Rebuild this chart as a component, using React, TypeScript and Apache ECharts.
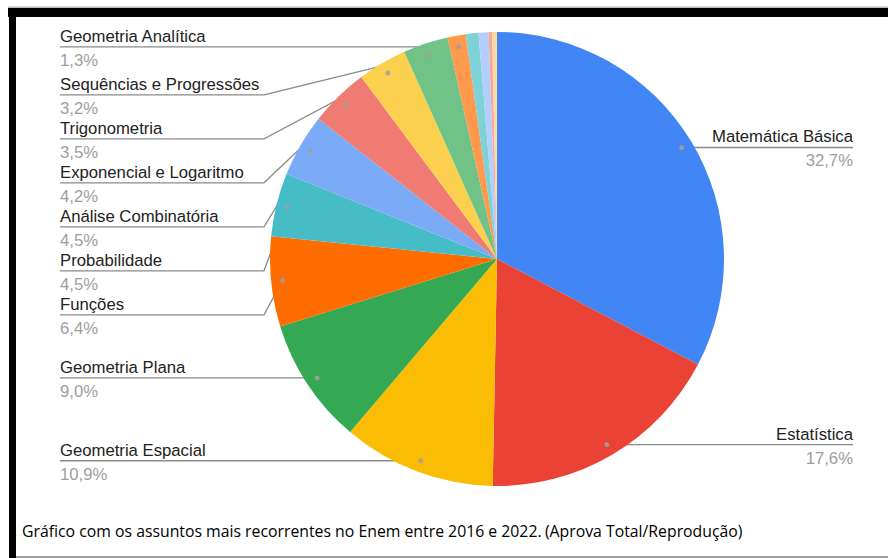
import React, { useEffect, useRef } from 'react';
import * as echarts from 'echarts';

// ---- data ----
const categories = [
  'Matemática Básica',
  'Estatística',
  'Geometria Espacial',
  'Geometria Plana',
  'Funções',
  'Probabilidade',
  'Análise Combinatória',
  'Exponencial e Logaritmo',
  'Trigonometria',
  'Sequências e Progressões',
  'Geometria Analítica',
  'Outros A',
  'Outros B',
  'Outros C',
  'Outros D',
];
const values = [32.7, 17.6, 10.9, 9.0, 6.4, 4.5, 4.5, 4.2, 3.5, 3.2, 1.3, 0.9, 0.7, 0.25, 0.35];
const showLabel = [true, true, true, true, true, true, true, true, true, true, true, false, false, false, false];
const colors = [
  '#4285F4', '#EA4335', '#FBBC04', '#34A853', '#FF6D01', '#46BDC6', '#7BAAF7',
  '#F07B72', '#FCD04F', '#71C287', '#FF994D', '#7ED1D7', '#B3CEFB', '#F7A7A0', '#FDD8A0',
];
const captionMain = 'Gráfico com os assuntos mais recorrentes no Enem entre 2016 e 2022.';
const captionSource = '(Aprova Total/Reprodução)';

// ---- layout ----
const W = 888;
const H = 558;
const CX = 497;
const CY = 259;
const R = 227;
const ANCHOR_K = 0.95;
const GAP = 44;
const LEFT_X = 60;
const RIGHT_X = 853;
const ELBOW_L = CX - R - 6;

const fmt = (v: number) => v.toFixed(1).replace('.', ',') + '%';

type LabelInfo = { side: 'left' | 'right'; ax: number; ay: number; y: number; points: number[][] };

function computeLayout(): Record<number, LabelInfo> {
  const total = values.reduce((a, b) => a + b, 0);
  let cum = 0;
  const anchors = values.map((v) => {
    const a = (2 * Math.PI * (cum + v / 2)) / total;
    cum += v;
    return {
      ax: CX + ANCHOR_K * R * Math.sin(a),
      ay: CY - ANCHOR_K * R * Math.cos(a),
      side: (Math.sin(a) < 0 ? 'left' : 'right') as 'left' | 'right',
    };
  });
  const out: Record<number, LabelInfo> = {};
  (['left', 'right'] as const).forEach((side) => {
    const idx = anchors
      .map((a, i) => i)
      .filter((i) => showLabel[i] && anchors[i].side === side)
      .sort((a, b) => anchors[a].ay - anchors[b].ay);
    let prev = -Infinity;
    idx.forEach((i, k) => {
      const { ax, ay } = anchors[i];
      const gap = k === 1 ? GAP + 4 : GAP;
      const y = Math.max(ay, prev + gap);
      prev = y;
      let points: number[][];
      if (side === 'left') {
        points = Math.abs(y - ay) > 1.5 ? [[ax, ay], [ELBOW_L, y], [LEFT_X, y]] : [[ax, ay], [LEFT_X, y]];
      } else {
        points = Math.abs(y - ay) > 1.5 ? [[ax, ay], [CX + R + 6, y], [RIGHT_X, y]] : [[ax, ay], [RIGHT_X, y]];
      }
      out[i] = { side, ax, ay, y, points };
    });
  });
  return out;
}

export default function App() {
  const ref = useRef<HTMLDivElement>(null);

  useEffect(() => {
    document.body.style.margin = '0';
    document.body.style.background = '#ffffff';
    if (!ref.current) return;
    const chart = echarts.init(ref.current, undefined, { renderer: 'svg' });
    const layout = computeLayout();

    const font = 'Liberation Sans, Arial, sans-serif';
    const FS = 16.7;
    const data = categories.map((name, i) => ({
      name,
      value: values[i],
      itemStyle: { color: colors[i] },
      label: { show: showLabel[i] },
      labelLine: { show: showLabel[i] },
    }));

    const dots = Object.keys(layout).map((k) => {
      const L = layout[Number(k)];
      return {
        type: 'circle',
        shape: { cx: L.ax, cy: L.ay, r: 2.5 },
        style: { fill: 'rgba(160,160,160,0.85)' },
        z: 100,
        silent: true,
      };
    });

    chart.setOption({
      animation: false,
      backgroundColor: '#ffffff',
      series: [
        {
          type: 'pie',
          center: [CX, CY],
          radius: R,
          startAngle: 90,
          clockwise: true,
          avoidLabelOverlap: false,
          silent: true,
          emphasis: { disabled: true },
          itemStyle: { borderWidth: 0 },
          data,
          label: {
            show: true,
            position: 'outside',
            formatter: (p: any) => {
              const L = layout[p.dataIndex];
              const s = L && L.side === 'right' ? 'r' : 'l';
              return `{n${s}|${p.name}}\n{v${s}|${fmt(p.value)}}`;
            },
            rich: {
              nl: { fontFamily: font, fontSize: FS, lineHeight: 21, color: '#222222', align: 'left' },
              vl: { fontFamily: font, fontSize: FS, lineHeight: 27, color: '#9e9e9e', align: 'left' },
              nr: { fontFamily: font, fontSize: FS, lineHeight: 21, color: '#222222', align: 'right' },
              vr: { fontFamily: font, fontSize: FS, lineHeight: 27, color: '#9e9e9e', align: 'right' },
            },
          },
          labelLine: {
            show: true,
            length: 10,
            length2: 10,
            lineStyle: { color: '#8a8a8a', width: 1.3 },
          },
          labelLayout: (params: any) => {
            const L = layout[params.dataIndex];
            if (!L) return {};
            return {
              x: L.side === 'left' ? LEFT_X : RIGHT_X,
              y: L.y - 21,
              align: L.side,
              verticalAlign: 'top',
              labelLinePoints: L.points,
            };
          },
        },
      ],
      graphic: [
        ...dots,
        { type: 'rect', shape: { x: 8, y: 6.5, width: W - 8, height: 1.5 }, style: { fill: '#b8b8b8' }, silent: true },
        { type: 'rect', shape: { x: 8, y: 8, width: W - 8, height: 9 }, style: { fill: '#000000' }, silent: true },
        { type: 'rect', shape: { x: 9, y: 8, width: 7, height: H - 8 }, style: { fill: '#000000' }, silent: true },
        { type: 'rect', shape: { x: 16, y: H - 2, width: W - 16, height: 2 }, style: { fill: '#a0a0a0' }, silent: true },
        {
          type: 'text',
          left: 22,
          top: 523,
          silent: true,
          style: {
            text: `{a|${captionMain}} {b|${captionSource}}`,
            rich: {
              a: { fontFamily: 'Open Sans, sans-serif', fontSize: 15.8, color: '#5a5a5a' },
              b: { fontFamily: 'Open Sans, sans-serif', fontSize: 15.8, color: '#8c8c8c' },
            },
          },
        },
      ],
    });

    return () => chart.dispose();
  }, []);

  return (
    <div
      ref={ref}
      style={{ position: 'absolute', left: 0, top: 0, width: W, height: H, background: '#ffffff' }}
    />
  );
}
